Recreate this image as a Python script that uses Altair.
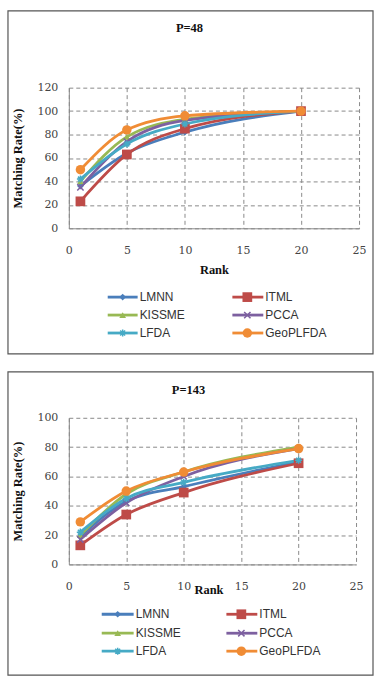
import altair as alt
import pandas as pd

# ---------------- data ----------------
ranks = [1, 5, 10, 20]
series = ["LMNN", "ITML", "KISSME", "PCCA", "LFDA", "GeoPLFDA"]

p48_lmnn = [36, 64, 82, 100]
p48_itml = [23, 63, 85, 100]
p48_kissme = [40, 78, 93, 100]
p48_pcca = [35, 74, 92, 100]
p48_lfda = [42, 72, 89, 100]
p48_geo = [50, 84, 96, 100]

p143_lmnn = [19, 43, 53, 70]
p143_itml = [13, 34, 49, 69]
p143_kissme = [20, 48, 63, 80]
p143_pcca = [17, 42, 60, 79]
p143_lfda = [22, 45, 56, 71]
p143_geo = [29, 50, 63, 79]

x_ticks = [0, 5, 10, 15, 20, 25]
y_ticks_48 = [0, 20, 40, 60, 80, 100, 120]
y_ticks_143 = [0, 20, 40, 60, 80, 100]

# ---------------- style ----------------
colors = {"LMNN": "#4A7EBB", "ITML": "#BE4B48", "KISSME": "#98B954",
          "PCCA": "#7D60A0", "LFDA": "#46AAC5", "GeoPLFDA": "#F08C35"}
shapes = {"LMNN": "diamond", "ITML": "square", "KISSME": "triangle-up",
          "PCCA": "M-1,-1L1,1M-1,1L1,-1",
          "LFDA": "M-1,0L1,0M0,-1L0,1M-0.7,-0.7L0.7,0.7M-0.7,0.7L0.7,-0.7",
          "GeoPLFDA": "circle"}
filled = {"LMNN": True, "ITML": True, "KISSME": True, "PCCA": False,
          "LFDA": False, "GeoPLFDA": True}
sizes = {"LMNN": 45, "ITML": 95, "KISSME": 45, "PCCA": 40, "LFDA": 50, "GeoPLFDA": 90}

SERIF = "Liberation Serif"
TICKFONT = "DejaVu Serif"
SANS = "Liberation Sans"


def panel(title, vals, yticks, ymax, W, H, box, title_pos, xtitle_pos, leg):
    rows = []
    for s, v in zip(series, vals):
        for r, y in zip(ranks, v):
            rows.append({"rank": r, "rate": y, "series": s})
    df = pd.DataFrame(rows)

    xs = alt.Scale(domain=[0, 25], nice=False)
    ys = alt.Scale(domain=[0, ymax], nice=False)
    xaxis = alt.Axis(values=x_ticks, grid=True, gridDash=[4, 3], gridColor="#8a8a8a",
                     ticks=False, domainColor="#8a8a8a", labelFont=TICKFONT, labelFontSize=11,
                     labelColor="#444", labelPadding=16, title="Rank", titleFont=SERIF,
                     titleFontSize=12.5, titleFontWeight="bold", titleColor="#111",
                     titleX=xtitle_pos[0], titleY=xtitle_pos[1], titleBaseline="middle",
                     labelFlush=False)
    yaxis = alt.Axis(values=yticks, grid=True, gridDash=[4, 3], gridColor="#8a8a8a",
                     ticks=False, domainColor="#8a8a8a", labelFont=TICKFONT, labelFontSize=11,
                     labelColor="#444", labelPadding=11, title="Matching Rate(%)",
                     titleFont=SERIF, titleFontSize=12.5, titleFontWeight="bold",
                     titleColor="#111", titleX=-51, titleY=H / 2, titleAngle=-90,
                     titleAlign="center", titleBaseline="middle")

    layers = []
    # outer box (stroke only)
    layers.append(alt.Chart(pd.DataFrame({"a": [0]})).mark_rect(
        fillOpacity=0, stroke="#555", strokeWidth=1.2).encode(
        x=alt.value(box[0]), x2=alt.value(box[1]), y=alt.value(box[2]), y2=alt.value(box[3])))
    base = alt.Chart(df).encode(
        x=alt.X("rank:Q", scale=xs, axis=xaxis),
        y=alt.Y("rate:Q", scale=ys, axis=yaxis))
    for s in series:
        sub = base.transform_filter(alt.datum.series == s)
        layers.append(sub.mark_line(interpolate="monotone", strokeWidth=2.8, color=colors[s]))
    for s in series:
        sub = base.transform_filter(alt.datum.series == s)
        if filled[s]:
            layers.append(sub.mark_point(shape=shapes[s], filled=True, opacity=1,
                                         size=sizes[s], color=colors[s]))
        else:
            layers.append(sub.mark_point(shape=shapes[s], filled=False, opacity=1,
                                         size=sizes[s], color=colors[s], strokeWidth=1.5))
    main = alt.layer(*layers)

    ttl = alt.Chart(pd.DataFrame({"a": [0]})).mark_text(
        font=SERIF, fontSize=12.5, fontWeight="bold", color="#111").encode(
        x=alt.value(title_pos[0]), y=alt.value(title_pos[1]), text=alt.value(title))

    # legend (positions come from layout constants, not data)
    lrows = []
    for i, s in enumerate(series):
        col, row = i % 2, i // 2
        x0, x1, xm, xt = leg["cols"][col]
        lrows.append({"series": s, "x0": x0, "x1": x1, "xm": xm, "xt": xt, "y": leg["rows"][row]})
    ldf = pd.DataFrame(lrows)
    px = alt.Scale(domain=[0, W], range=[0, W])
    py = alt.Scale(domain=[0, H], range=[0, H])
    leg_layers = []
    for s in series:
        lb = alt.Chart(ldf).transform_filter(alt.datum.series == s)
        leg_layers.append(lb.mark_rule(strokeWidth=2.8, color=colors[s]).encode(
            x=alt.X("x0:Q", scale=px, axis=None), x2="x1:Q",
            y=alt.Y("y:Q", scale=py, axis=None)))
        if filled[s]:
            leg_layers.append(lb.mark_point(shape=shapes[s], filled=True, opacity=1,
                                            size=sizes[s], color=colors[s]).encode(
                x=alt.X("xm:Q", scale=px, axis=None), y=alt.Y("y:Q", scale=py, axis=None)))
        else:
            leg_layers.append(lb.mark_point(shape=shapes[s], filled=False, opacity=1,
                                            size=sizes[s], color=colors[s], strokeWidth=1.5).encode(
                x=alt.X("xm:Q", scale=px, axis=None), y=alt.Y("y:Q", scale=py, axis=None)))
    leg_layers.append(alt.Chart(ldf).mark_text(
        font=SANS, fontSize=12, align="left", baseline="middle", color="#333").encode(
        x=alt.X("xt:Q", scale=px, axis=None), y=alt.Y("y:Q", scale=py, axis=None),
        text="series:N"))
    legend = alt.layer(*leg_layers)

    return alt.layer(main, ttl, legend).resolve_scale(x="independent", y="independent").properties(
        width=W, height=H)


W1, H1 = 291, 141
W2, H2 = 288, 147

p1 = panel("P=48",
           [p48_lmnn, p48_itml, p48_kissme, p48_pcca, p48_lfda, p48_geo],
           y_ticks_48, 120, W1, H1,
           box=[-61, 305, -77, 267], title_pos=[121, -60], xtitle_pos=[W1 / 2, 41],
           leg={"cols": [[39, 69, 54, 71], [164, 195, 179, 197]], "rows": [210, 228, 246]})
p2 = panel("P=143",
           [p143_lmnn, p143_itml, p143_kissme, p143_pcca, p143_lfda, p143_geo],
           y_ticks_143, 100, W2, H2,
           box=[-61, 305, -46, 258], title_pos=[120, -28], xtitle_pos=[140, 25],
           leg={"cols": [[33, 65, 49, 67], [158, 189, 173, 191]], "rows": [197, 216, 234]})

chart = alt.vconcat(p1, p2, spacing=16).properties(
    padding={"left": 7, "top": 9, "right": 0, "bottom": 0},
    background="white"
).configure_view(stroke=None)

chart.save("out.html", embed_options={"renderer": "svg", "actions": False})
